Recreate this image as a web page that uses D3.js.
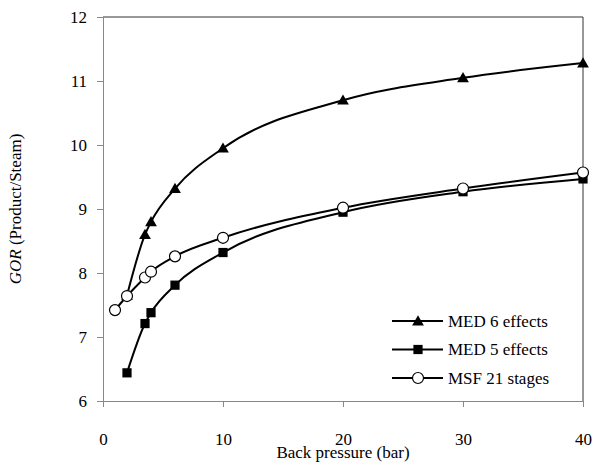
<html>
<script src="https://d3js.org/d3.v7.min.js"></script>
<body style="margin:0; background:#fff;">
<div id="chart_area"></div>
<script>
    // data
    let pressure = [1, 2, 3.5, 4, 6, 10, 20, 30, 40];
    let med6_x = [2, 3.5, 4, 6, 10, 20, 30, 40];
    let med6_y = [7.65, 8.6, 8.8, 9.32, 9.95, 10.7, 11.05, 11.28];
    let med5_x = [2, 3.5, 4, 6, 10, 20, 30, 40];
    let med5_y = [6.44, 7.21, 7.38, 7.81, 8.32, 8.95, 9.27, 9.47];
    let msf_x = pressure;
    let msf_y = [7.42, 7.64, 7.93, 8.02, 8.26, 8.55, 9.02, 9.32, 9.57];
    let xTicks = [0, 10, 20, 30, 40];
    let yTicks = [6, 7, 8, 9, 10, 11, 12];
    let seriesNames = ["MED 6 effects", "MED 5 effects", "MSF 21 stages"];

    let serif = "'Times New Roman', 'Liberation Serif', Times, serif";
    let width = 616, height = 464;
    let svg = d3.select("#chart_area").append("svg")
        .attr("width", width)
        .attr("height", height)
        .attr("font-family", serif);

    let x = d3.scaleLinear().domain([0, 40]).range([103, 583]);
    let y = d3.scaleLinear().domain([6, 12]).range([401, 17]);

    // frame (top + right darker)
    svg.append("line").attr("x1", 103).attr("x2", 583).attr("y1", 17).attr("y2", 17)
        .attr("stroke", "#333").attr("stroke-width", 1);
    svg.append("line").attr("x1", 583).attr("x2", 583).attr("y1", 17).attr("y2", 401)
        .attr("stroke", "#333").attr("stroke-width", 1);

    // axes
    let xAxis = svg.append("g").attr("transform", "translate(0,401)")
        .call(d3.axisBottom(x).tickValues(xTicks).tickSize(6).tickPadding(26).tickFormat(d3.format("d")));
    let yAxis = svg.append("g").attr("transform", "translate(103,0)")
        .call(d3.axisLeft(y).tickValues(yTicks).tickSize(6).tickPadding(10).tickFormat(d3.format("d")));

    [xAxis, yAxis].forEach(g => {
        g.attr("font-family", serif).attr("font-size", 17);
        g.select(".domain").attr("stroke", "#888");
        g.selectAll(".tick line").attr("stroke", "#888");
        g.selectAll(".tick text").attr("fill", "#000");
    });

    // axis titles
    svg.append("text")
        .attr("x", 343).attr("y", 458)
        .attr("text-anchor", "middle")
        .attr("font-size", 17)
        .text("Back pressure (bar)");

    let yt = svg.append("text")
        .attr("transform", "translate(21,209) rotate(-90)")
        .attr("text-anchor", "middle")
        .attr("font-size", 17);
    yt.append("tspan").attr("font-style", "italic").text("GOR");
    yt.append("tspan").text(" (Product/Steam)");

    let line = d3.line()
        .x(d => x(d[0]))
        .y(d => y(d[1]))
        .curve(d3.curveMonotoneX);

    let med6 = med6_x.map((v, i) => [v, med6_y[i]]);
    let med5 = med5_x.map((v, i) => [v, med5_y[i]]);
    let msf = msf_x.map((v, i) => [v, msf_y[i]]);

    let sym = {
        tri: d3.symbol().type(d3.symbolTriangle).size(60),
        sq: d3.symbol().type(d3.symbolSquare).size(85),
    };

    function drawSeries(pts, kind) {
        svg.append("path").datum(pts)
            .attr("d", line)
            .attr("fill", "none")
            .attr("stroke", "#000")
            .attr("stroke-width", 2);
        drawMarkers(pts.map(p => [x(p[0]), y(p[1])]), kind);
    }

    function drawMarkers(coords, kind) {
        if (kind == "circle") {
            svg.append("g").selectAll("circle")
                .data(coords)
                .join("circle")
                .attr("cx", d => d[0]).attr("cy", d => d[1])
                .attr("r", 5.5)
                .attr("fill", "#fff")
                .attr("stroke", "#000")
                .attr("stroke-width", 1.2);
        } else {
            svg.append("g").selectAll("path")
                .data(coords)
                .join("path")
                .attr("transform", d => "translate(" + d[0] + "," + (d[1] + (kind == "tri" ? 1 : 0)) + ")")
                .attr("d", sym[kind])
                .attr("fill", "#000");
        }
    }

    drawSeries(med6, "tri");
    drawSeries(med5, "sq");
    drawSeries(msf, "circle");

    // legend
    let kinds = ["tri", "sq", "circle"];
    let legY = [321, 349.5, 378];
    seriesNames.forEach((name, i) => {
        svg.append("line")
            .attr("x1", 392).attr("x2", 443)
            .attr("y1", legY[i]).attr("y2", legY[i])
            .attr("stroke", "#000").attr("stroke-width", 2);
        drawMarkers([[418, legY[i]]], kinds[i]);
        svg.append("text")
            .attr("x", 448).attr("y", legY[i] + 5.5)
            .attr("font-size", 17)
            .text(name);
    });
</script>
</body>
</html>
